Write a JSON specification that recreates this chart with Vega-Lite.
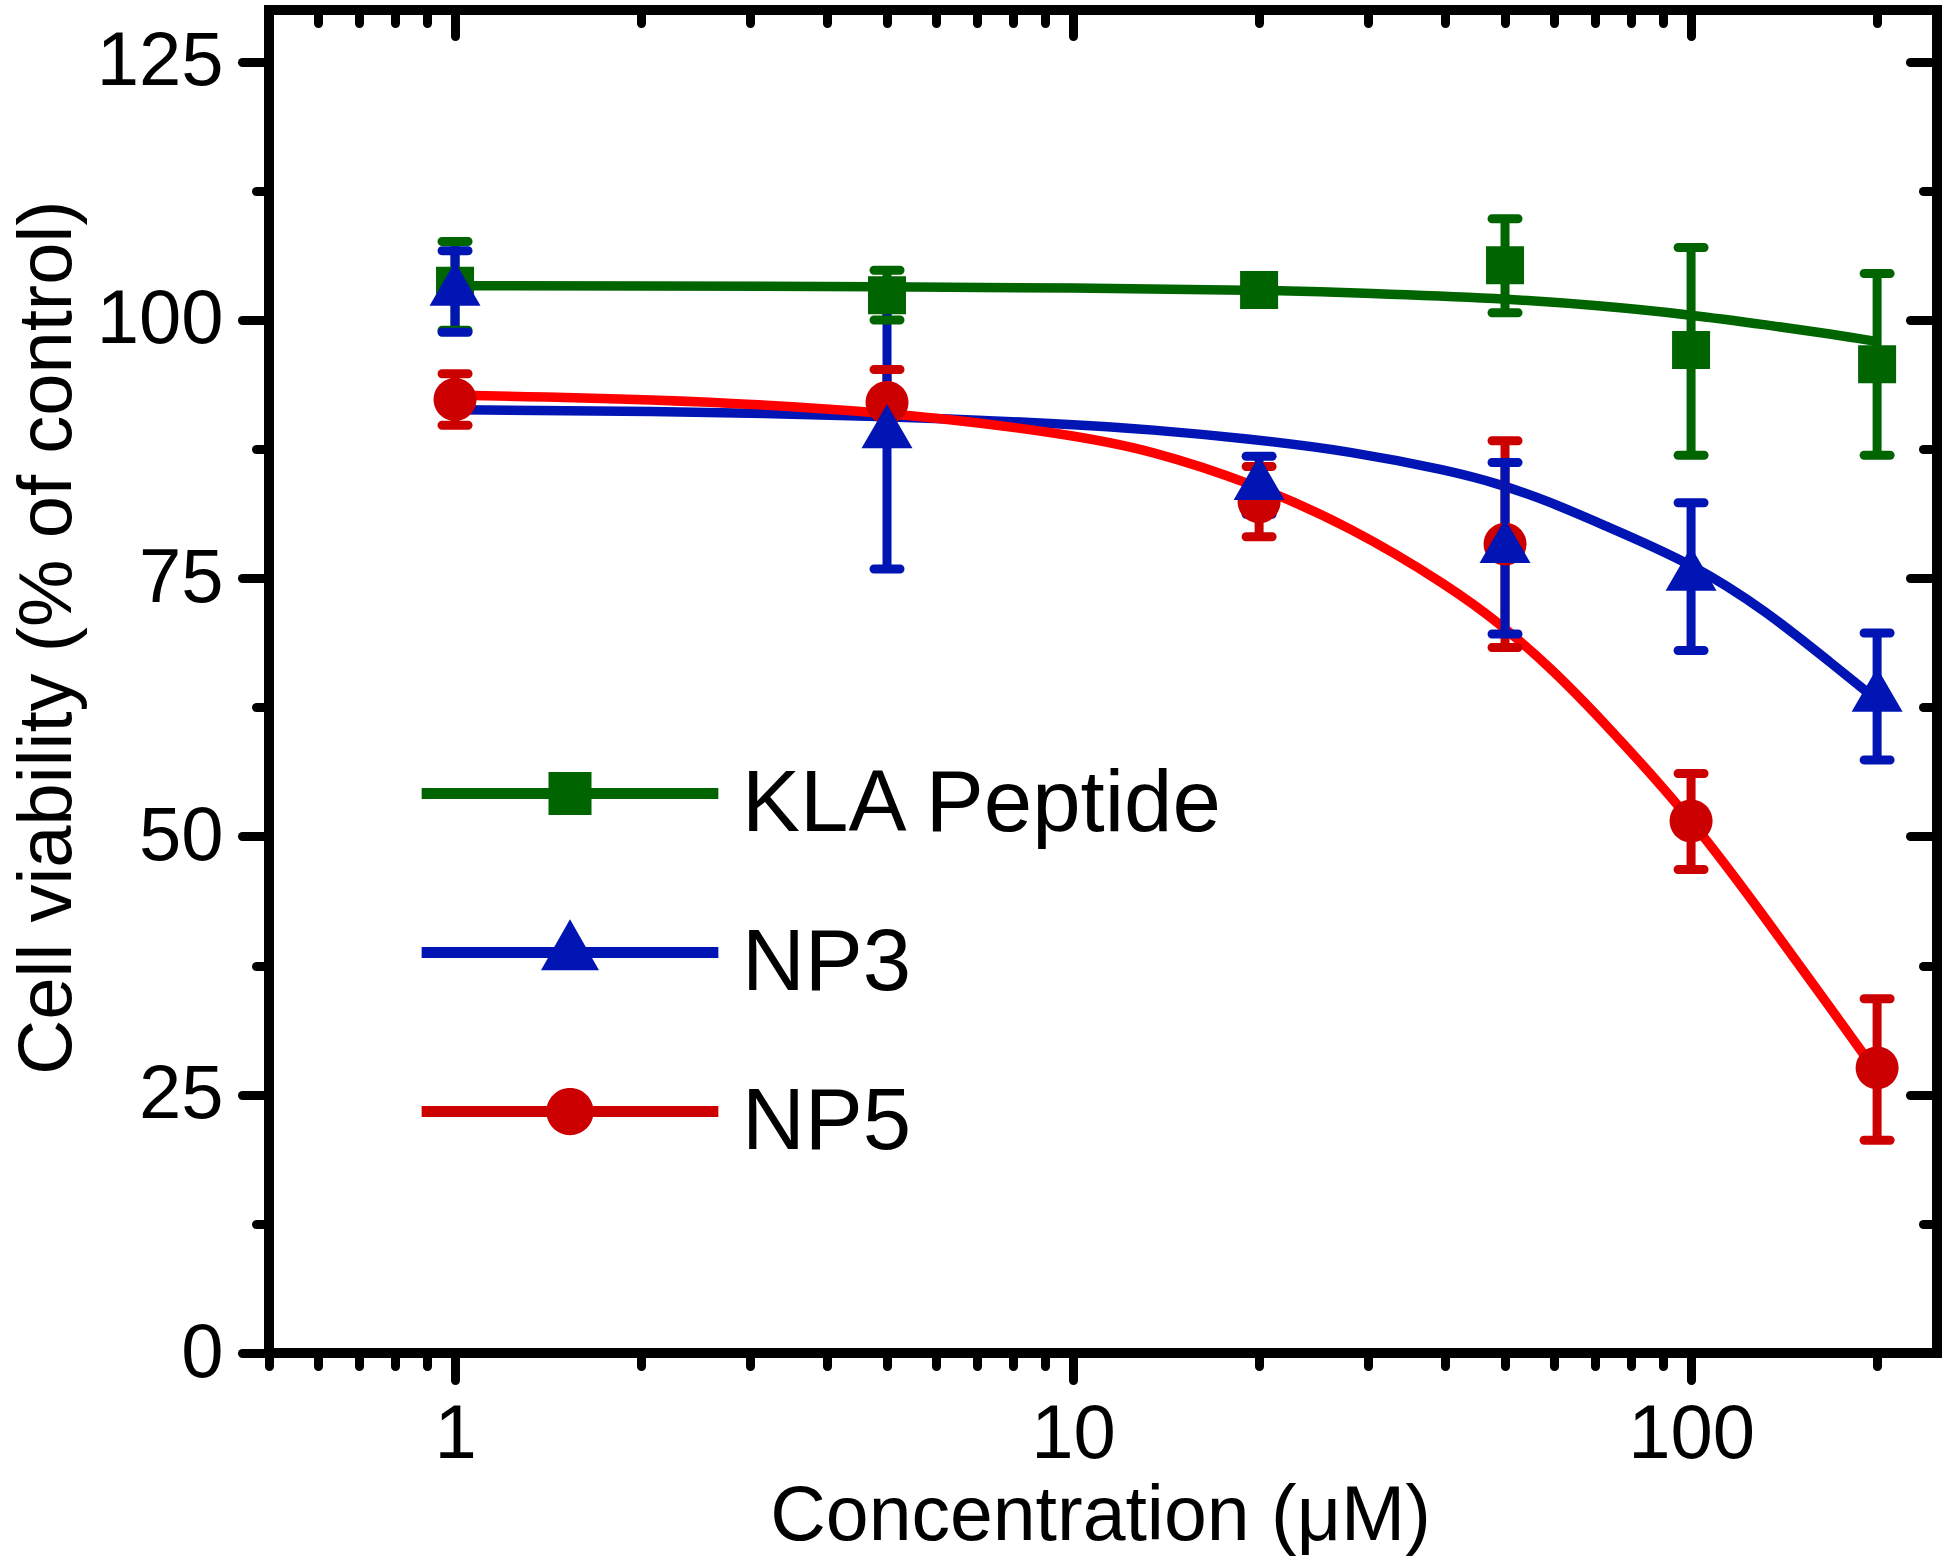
{
  "$schema": "https://vega.github.io/schema/vega-lite/v6.json",
  "width": 1668,
  "height": 1343,
  "autosize": "none",
  "padding": {"left": 269, "top": 10, "right": 13, "bottom": 211},
  "background": "white",
  "config": {
    "view": {"stroke": "black", "strokeWidth": 10},
    "font": "Liberation Sans",
    "axis": {
      "grid": false,
      "domain": false,
      "tickColor": "black",
      "tickWidth": 9,
      "tickCap": "round",
      "labelFont": "Liberation Sans",
      "labelFontSize": 76,
      "labelColor": "black",
      "labelFlush": false,
      "labelOverlap": false,
      "labelBound": false,
      "titleFont": "Liberation Sans",
      "titleFontSize": 77,
      "titleFontWeight": "normal",
      "titleColor": "black"
    }
  },
  "datasets": {
    "points": [
      {"series": "KLA Peptide", "conc": 1, "v": 103.3, "lo": 99.0, "hi": 107.6},
      {"series": "KLA Peptide", "conc": 5, "v": 102.4, "lo": 100.0, "hi": 104.8},
      {"series": "KLA Peptide", "conc": 20, "v": 102.9, "lo": 101.7, "hi": 104.1},
      {"series": "KLA Peptide", "conc": 50, "v": 105.3, "lo": 100.7, "hi": 109.8},
      {"series": "KLA Peptide", "conc": 100, "v": 97.1, "lo": 86.9, "hi": 107.0},
      {"series": "KLA Peptide", "conc": 200, "v": 95.7, "lo": 86.9, "hi": 104.5},
      {"series": "NP5", "conc": 1, "v": 92.3, "lo": 89.8, "hi": 94.8},
      {"series": "NP5", "conc": 5, "v": 92.0, "lo": 88.7, "hi": 95.2},
      {"series": "NP5", "conc": 20, "v": 82.4, "lo": 79.0, "hi": 85.8},
      {"series": "NP5", "conc": 50, "v": 78.3, "lo": 68.3, "hi": 88.3},
      {"series": "NP5", "conc": 100, "v": 51.5, "lo": 46.8, "hi": 56.1},
      {"series": "NP5", "conc": 200, "v": 27.6, "lo": 20.6, "hi": 34.3},
      {"series": "NP3", "conc": 1, "v": 102.8, "lo": 98.8, "hi": 106.7},
      {"series": "NP3", "conc": 5, "v": 89.0, "lo": 75.9, "hi": 102.1},
      {"series": "NP3", "conc": 20, "v": 84.0, "lo": 81.2, "hi": 86.8},
      {"series": "NP3", "conc": 50, "v": 77.9, "lo": 69.6, "hi": 86.2},
      {"series": "NP3", "conc": 100, "v": 75.2, "lo": 68.0, "hi": 82.3},
      {"series": "NP3", "conc": 200, "v": 63.5, "lo": 57.4, "hi": 69.7}
    ],
    "fit": [
      {"series": "KLA Peptide", "conc": 1, "v": 103.3},
      {"series": "KLA Peptide", "conc": 2, "v": 103.3},
      {"series": "KLA Peptide", "conc": 5, "v": 103.2},
      {"series": "KLA Peptide", "conc": 10, "v": 103.1},
      {"series": "KLA Peptide", "conc": 20, "v": 102.9},
      {"series": "KLA Peptide", "conc": 30, "v": 102.6},
      {"series": "KLA Peptide", "conc": 49, "v": 102.1},
      {"series": "KLA Peptide", "conc": 71, "v": 101.4},
      {"series": "KLA Peptide", "conc": 100, "v": 100.5},
      {"series": "KLA Peptide", "conc": 133, "v": 99.5},
      {"series": "KLA Peptide", "conc": 170, "v": 98.6},
      {"series": "KLA Peptide", "conc": 200, "v": 97.9},
      {"series": "NP3", "conc": 1, "v": 91.3},
      {"series": "NP3", "conc": 2, "v": 91.2},
      {"series": "NP3", "conc": 5, "v": 90.7},
      {"series": "NP3", "conc": 10, "v": 89.9},
      {"series": "NP3", "conc": 13.3, "v": 89.4},
      {"series": "NP3", "conc": 19.3, "v": 88.5},
      {"series": "NP3", "conc": 28.1, "v": 87.3},
      {"series": "NP3", "conc": 40.7, "v": 85.4},
      {"series": "NP3", "conc": 49.1, "v": 84.1},
      {"series": "NP3", "conc": 59.1, "v": 82.4},
      {"series": "NP3", "conc": 71.2, "v": 80.3},
      {"series": "NP3", "conc": 100, "v": 76.5},
      {"series": "NP3", "conc": 132.6, "v": 71.8},
      {"series": "NP3", "conc": 170, "v": 66.6},
      {"series": "NP3", "conc": 200, "v": 63.2},
      {"series": "NP5", "conc": 1, "v": 92.7},
      {"series": "NP5", "conc": 2, "v": 92.4},
      {"series": "NP5", "conc": 5, "v": 91.2},
      {"series": "NP5", "conc": 10, "v": 88.9},
      {"series": "NP5", "conc": 13.3, "v": 87.4},
      {"series": "NP5", "conc": 19.3, "v": 84.3},
      {"series": "NP5", "conc": 28.1, "v": 80.0},
      {"series": "NP5", "conc": 40.7, "v": 74.2},
      {"series": "NP5", "conc": 49.1, "v": 70.6},
      {"series": "NP5", "conc": 59.1, "v": 66.4},
      {"series": "NP5", "conc": 71.2, "v": 61.5},
      {"series": "NP5", "conc": 100, "v": 51.8},
      {"series": "NP5", "conc": 130, "v": 42.6},
      {"series": "NP5", "conc": 170, "v": 33.0},
      {"series": "NP5", "conc": 200, "v": 27.1}
    ]
  },
  "layer": [
    {
      "data": {"name": "fit"},
      "mark": {"type": "line", "strokeWidth": 9.5, "interpolate": "basis", "strokeCap": "butt"},
      "encoding": {
        "x": {"field": "conc", "type": "quantitative",
          "scale": {"type": "log", "domain": [0.5, 250], "nice": false},
          "axis": {"orient": "bottom", "values": [1, 10, 100], "format": "d", "tickSize": 27, "labelPadding": 17,
            "title": "Concentration (μM)", "titleX": 831, "titleY": 186, "titleBaseline": "alphabetic", "titleAlign": "center", "titleAngle": 0}},
        "y": {"field": "v", "type": "quantitative",
          "scale": {"domain": [0, 130], "nice": false, "zero": false},
          "axis": {"orient": "left", "values": [0, 25, 50, 75, 100, 125], "tickSize": 27, "labelPadding": 19,
            "title": "Cell viability (% of control)", "titleFontSize": 76, "titleX": -199, "titleY": 627, "titleBaseline": "alphabetic", "titleAlign": "center", "titleAngle": 270}},
        "color": {"field": "series", "type": "nominal",
          "scale": {"domain": ["KLA Peptide", "NP3", "NP5"], "range": ["#006400", "#0015B4", "#FF0000"]},
          "legend": null}
      }
    },
    {
      "data": {"name": "points"},
      "mark": {"type": "rule", "strokeWidth": 9, "opacity": 1},
      "encoding": {
        "x": {"field": "conc", "type": "quantitative",
          "scale": {"type": "log", "domain": [0.5, 250], "nice": false},
          "axis": {"orient": "bottom", "values": [0.5, 0.6, 0.7, 0.8, 0.9, 2, 3, 4, 5, 6, 7, 8, 9, 20, 30, 40, 50, 60, 70, 80, 90, 200],
            "tickSize": 13, "labels": false, "title": null}},
        "y": {"field": "lo", "type": "quantitative",
          "scale": {"domain": [0, 130], "nice": false, "zero": false},
          "axis": {"orient": "left", "values": [12.5, 37.5, 62.5, 87.5, 112.5], "tickSize": 13, "labels": false, "title": null}},
        "y2": {"field": "hi"},
        "color": {"field": "series", "type": "nominal",
          "scale": {"domain": ["KLA Peptide", "NP3", "NP5"], "range": ["#006400", "#0015B4", "#CC0000"]},
          "legend": null}
      }
    },
    {
      "data": {"name": "points"},
      "transform": [{"fold": ["lo", "hi"], "as": ["end", "cap"]}],
      "mark": {"type": "tick", "orient": "horizontal", "size": 35, "thickness": 9, "cornerRadius": 4.5, "opacity": 1},
      "encoding": {
        "x": {"field": "conc", "type": "quantitative",
          "scale": {"type": "log", "domain": [0.5, 250], "nice": false},
          "axis": {"orient": "bottom", "offset": -1343, "values": [1, 10, 100], "tickSize": 26, "labels": false, "title": null}},
        "y": {"field": "cap", "type": "quantitative",
          "scale": {"domain": [0, 130], "nice": false, "zero": false},
          "axis": {"orient": "left", "offset": -1668, "values": [0, 25, 50, 75, 100, 125], "tickSize": 27, "labels": false, "title": null}},
        "color": {"field": "series", "type": "nominal",
          "scale": {"domain": ["KLA Peptide", "NP3", "NP5"], "range": ["#006400", "#0015B4", "#CC0000"]},
          "legend": null}
      }
    },
    {
      "data": {"name": "points"},
      "mark": {"type": "point", "filled": true, "size": 1444, "opacity": 1, "strokeWidth": 0},
      "encoding": {
        "x": {"field": "conc", "type": "quantitative",
          "scale": {"type": "log", "domain": [0.5, 250], "nice": false},
          "axis": {"orient": "bottom", "offset": -1343, "values": [0.5, 0.6, 0.7, 0.8, 0.9, 2, 3, 4, 5, 6, 7, 8, 9, 20, 30, 40, 50, 60, 70, 80, 90, 200],
            "tickSize": 13, "labels": false, "title": null}},
        "y": {"field": "v", "type": "quantitative",
          "scale": {"domain": [0, 130], "nice": false, "zero": false},
          "axis": {"orient": "left", "offset": -1668, "values": [12.5, 37.5, 62.5, 87.5, 112.5], "tickSize": 14, "labels": false, "title": null}},
        "color": {"field": "series", "type": "nominal",
          "scale": {"domain": ["KLA Peptide", "NP3", "NP5"], "range": ["#006400", "#0015B4", "#CC0000"]},
          "legend": null},
        "shape": {"field": "series", "type": "nominal",
          "scale": {"domain": ["KLA Peptide", "NP3", "NP5"],
            "range": ["M-1,-1H1V1H-1Z", "M0,-1.544L1.342,0.772L-1.342,0.772Z", "M-1.13,0A1.13,1.13,0,1,1,1.13,0A1.13,1.13,0,1,1,-1.13,0Z"]},
          "legend": null}
      }
    },
    {
      "data": {"name": "points"},
      "transform": [{"filter": "false"}],
      "mark": {"type": "point", "filled": true, "opacity": 1},
      "encoding": {
        "color": {"field": "series", "type": "nominal",
          "scale": {"domain": ["KLA Peptide", "NP3", "NP5"], "range": ["#006400", "#0015B4", "#CC0000"]},
          "legend": {"orient": "none", "legendX": 257.5, "legendY": 751, "title": null, "padding": 0,
            "labelFont": "Liberation Sans", "labelFontSize": 87, "labelColor": "black", "labelLimit": 0,
            "symbolSize": 1849, "labelOffset": 128.5, "rowPadding": 71, "symbolStrokeWidth": 0, "symbolOpacity": 1}},
        "shape": {"field": "series", "type": "nominal",
          "scale": {"domain": ["KLA Peptide", "NP3", "NP5"],
            "range": [
              "M-6.9,-0.766H6.9V-0.254H-6.9Z M-1,-1.51H1V0.49H-1Z",
              "M-6.9,-0.766H6.9V-0.254H-6.9Z M0,-2.06L1.35,0.31L-1.35,0.31Z",
              "M-6.9,-0.766H6.9V-0.254H-6.9Z M-1.1,-0.51A1.1,1.1,0,1,1,1.1,-0.51A1.1,1.1,0,1,1,-1.1,-0.51Z"]},
          "legend": {"orient": "none", "legendX": 257.5, "legendY": 751, "title": null, "padding": 0,
            "labelFont": "Liberation Sans", "labelFontSize": 87, "labelColor": "black", "labelLimit": 0,
            "symbolSize": 1849, "labelOffset": 128.5, "rowPadding": 71, "symbolStrokeWidth": 0, "symbolOpacity": 1}}
      }
    }
  ],
  "resolve": {
    "scale": {"color": "independent", "shape": "independent"},
    "axis": {"x": "independent", "y": "independent"}
  }
}
